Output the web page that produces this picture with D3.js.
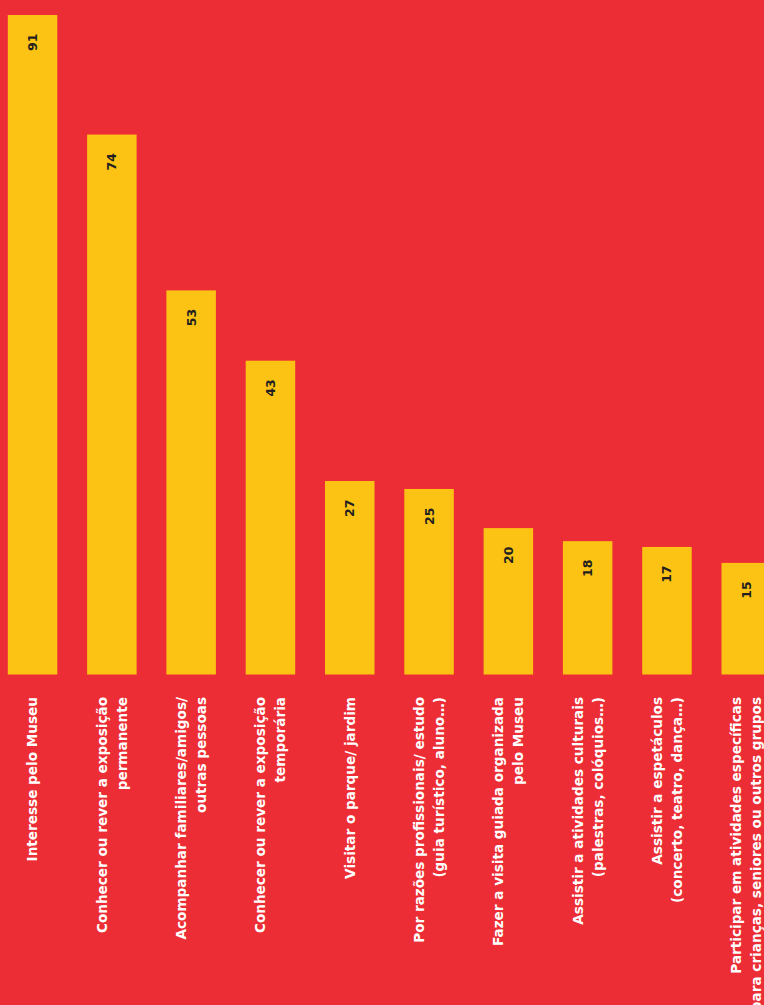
<!DOCTYPE html>
<html>
<head>
<meta charset="utf-8">
<script src="https://cdn.jsdelivr.net/npm/d3@7"></script>
<style>
  html, body { margin: 0; padding: 0; background: #EC2D35; }
  svg { display: block; }
</style>
</head>
<body>
<script>
const categories = [
  ["Interesse pelo Museu"],
  ["Conhecer ou rever a exposição", "permanente"],
  ["Acompanhar familiares/amigos/", "outras pessoas"],
  ["Conhecer ou rever a exposição", "temporária"],
  ["Visitar o parque/ jardim"],
  ["Por razões profissionais/ estudo", "(guia turístico, aluno…)"],
  ["Fazer a visita guiada organizada", "pelo Museu"],
  ["Assistir a atividades culturais", "(palestras, colóquios…)"],
  ["Assistir a espetáculos", "(concerto, teatro, dança…)"],
  ["Participar em atividades específicas", "para crianças, seniores ou outros grupos"]
];
// bar heights
const values = [91, 74.5, 53, 43.3, 26.7, 25.6, 20.2, 18.4, 17.6, 15.4];
// value labels as printed
const valueLabels = ["91", "74", "53", "43", "27", "25", "20", "18", "17", "15"];

const W = 764, H = 1005;
const svg = d3.select("body").append("svg").attr("width", W).attr("height", H);
svg.append("rect").attr("width", W).attr("height", H).attr("fill", "#EC2D35");

const keys = categories.map(d => d.join(" "));
const x = d3.scaleBand().domain(keys).range([7.8, 7.8 + 9 * 79.3 + 49.5]).paddingInner(1 - 49.5 / 79.3).paddingOuter(0);
const y = d3.scaleLinear().domain([0, 91]).range([674.5, 15]);

const data = keys.map((k, i) => ({ key: k, lines: categories[i], value: values[i], label: valueLabels[i] }));

svg.selectAll("rect.bar").data(data).join("rect")
  .attr("class", "bar")
  .attr("x", d => x(d.key))
  .attr("y", d => y(d.value))
  .attr("width", x.bandwidth())
  .attr("height", d => y(0) - y(d.value))
  .attr("fill", "#FCC314");

svg.selectAll("text.val").data(data).join("text")
  .attr("class", "val")
  .attr("transform", d => `translate(${x(d.key) + x.bandwidth() / 2},${y(d.value) + 18.5}) rotate(-90)`)
  .attr("text-anchor", "end")
  .attr("dy", "0.36em")
  .attr("font-family", "'DejaVu Sans', sans-serif")
  .attr("font-weight", 700)
  .attr("font-size", 12.5)
  .attr("fill", "#231F20")
  .text(d => d.label);

const lab = svg.selectAll("g.lab").data(data).join("g")
  .attr("class", "lab")
  .attr("transform", d => `translate(${x(d.key) + x.bandwidth() / 2},697) rotate(-90)`);

lab.each(function(d) {
  const g = d3.select(this);
  const n = d.lines.length;
  d.lines.forEach((line, i) => {
    g.append("text")
      .attr("x", 0)
      .attr("y", (i - (n - 1) / 2) * 20)
      .attr("dy", "0.36em")
      .attr("text-anchor", "end")
      .attr("font-family", "'DejaVu Sans', sans-serif")
      .attr("font-weight", 700)
      .attr("font-size", 13.6)
      .attr("fill", "#FFFFFF")
      .text(line);
  });
});
</script>
</body>
</html>
